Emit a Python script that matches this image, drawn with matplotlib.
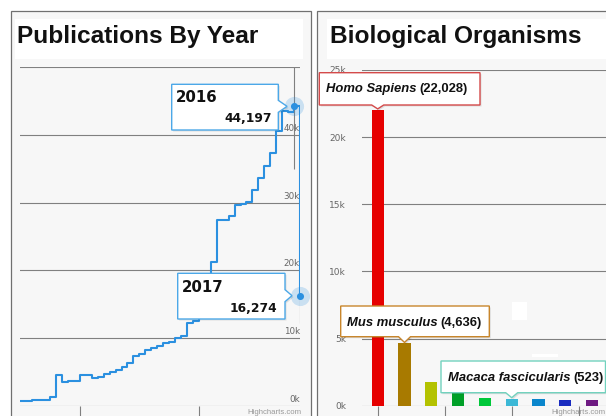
import matplotlib
matplotlib.use("Agg")
import matplotlib.pyplot as plt
from matplotlib.patches import Rectangle, Polygon
from matplotlib.transforms import blended_transform_factory

W, H = 606, 416

# ---- data ----
years = list(range(1970, 2018))
publications = [
    780, 800, 820, 850, 880, 1380, 4580, 3600, 3650, 3750,
    4580, 4580, 4090, 4330, 4720, 4970, 5320, 5810, 6300, 7440,
    7690, 8270, 8620, 8860, 9250, 9500, 10000, 10390, 12250, 12500,
    13200, 14100, 21300, 27400, 27500, 28000, 29700, 29800, 30100, 31900,
    33600, 35450, 37350, 40600, 43500, 43300, 44197, 16274,
]
pub_ticks = [0, 10000, 20000, 30000, 40000]

organism_counts = [22028, 4636, 1780, 1100, 550, 523, 480, 400, 400]
organism_colors = ["#e60000", "#a87a00", "#b4c200", "#00a028", "#00c83a",
                   "#3cb8d6", "#0a86cc", "#1a2cc0", "#6e1a82"]
# (bar index, name, count label)
organism_tips = [(0, "Homo Sapiens", "22,028"),
                 (1, "Mus musculus", "4,636"),
                 (5, "Macaca fascicularis", "523")]
tip_colors = ["#d44a4a", "#c8862c", "#72d2be"]
org_ticks = [0, 5000, 10000, 15000, 20000, 25000]

LINE = "#2b90e0"
GRID = "#808080"
LABEL = "#666666"

fig = plt.figure(figsize=(W / 100, H / 100), dpi=100)
fig.patch.set_facecolor("white")


def px_axes(x0, y0, x1, y1, **kw):
    return fig.add_axes([x0 / W, 1 - y1 / H, (x1 - x0) / W, (y1 - y0) / H], **kw)


def overlay(z):
    a = px_axes(0, 0, W, H, zorder=z)
    a.set_xlim(0, W)
    a.set_ylim(H, 0)
    a.axis("off")
    a.patch.set_alpha(0)
    return a


bg = overlay(-5)
top = overlay(10)

# panels + title boxes
for x0, x1, tx0, tx1 in [(10.7, 311, 15, 303.3), (317.3, 620, 326.7, 620)]:
    bg.add_patch(Rectangle((x0, 10.7), x1 - x0, 420, fc="#f7f7f7", ec="#707070", lw=0.9))
    bg.add_patch(Rectangle((tx0, 19.3), tx1 - tx0, 40, fc="white", ec="none"))

bg.text(17, 42.7, "Publications By Year", fontsize=17.6, fontweight="bold",
        family="Liberation Sans", va="baseline", color="#111111")
bg.text(330, 42.7, "Biological Organisms", fontsize=17.6, fontweight="bold",
        family="Liberation Sans", va="baseline", color="#111111")

# ---- left: publications step line ----
ax1 = px_axes(20.35, 67, 300, 406)
ax1.patch.set_alpha(0)
ax1.set_xlim(years[0], years[-1])
ax1.set_ylim(0, 50000)
for s in ax1.spines.values():
    s.set_visible(False)
ax1.set_yticks([0, 10000, 20000, 30000, 40000, 50000])
ax1.tick_params(axis="y", length=0, labelleft=False)
ax1.yaxis.grid(True, color=GRID, lw=0.8)
ax1.set_axisbelow(True)
ax1.set_xticks([1980, 2000])
ax1.tick_params(axis="x", length=7.2, width=0.8, color=GRID, labelbottom=False)
ax1.plot(years, publications, drawstyle="steps-post", color=LINE, lw=1.5)
tr = blended_transform_factory(ax1.transAxes, ax1.transData)
for v in pub_ticks:
    ax1.text(1.0, v + 300, f"{v // 1000}k", transform=tr, ha="right", va="bottom",
             fontsize=6.3, color=LABEL)
ax1.vlines(years[-2], 35000, 50000, color=GRID, lw=0.8)
ax1.vlines(years[-1], 12300, publications[-1], color=GRID, lw=0.8)
for yr, v in zip(years[-2:], publications[-2:]):
    ax1.scatter([yr], [v], s=190, color=LINE, alpha=0.22, lw=0, clip_on=False, zorder=4)
    ax1.scatter([yr], [v], s=26, color=LINE, lw=0, clip_on=False, zorder=5)

# ---- right: organisms bars ----
ax2 = px_axes(362, 70, 606, 405.7)
ax2.patch.set_alpha(0)
ax2.set_xlim(-0.586, 8.519)
ax2.set_ylim(0, 25000)
for s in ax2.spines.values():
    s.set_visible(False)
ax2.set_yticks(org_ticks)
ax2.set_yticklabels([f"{v // 1000}k" for v in org_ticks])
ax2.tick_params(axis="y", length=0, pad=11.5, labelsize=6.5, labelcolor=LABEL)
ax2.yaxis.grid(True, color=GRID, lw=0.8)
ax2.set_axisbelow(True)
ax2.set_xticks([0, 2.5, 5, 7.5])
ax2.tick_params(axis="x", length=7.2, width=0.8, color=GRID, labelbottom=False)
ax2.bar(range(len(organism_counts)), organism_counts, width=0.46, color=organism_colors)

# stray white marks in the reference
top.add_patch(Rectangle((511.7, 301.7), 15, 18.3, fc="white", ec="none"))
top.add_patch(Rectangle((531.7, 354), 26.3, 2.7, fc="white", ec="none"))


def to_px(ax, x, y):
    dx, dy = ax.transData.transform((x, y))
    return dx, H - dy


def tooltip(x0, y0, x1, y1, tip, side, color):
    tx, ty = tip
    if side == "bottom":
        pts = [(x0, y0), (x1, y0), (x1, y1), (tx + 6, y1), (tx, ty), (tx - 6, y1), (x0, y1)]
    else:
        pts = [(x0, y0), (x1, y0), (x1, ty - 6), (tx, ty), (x1, ty + 6), (x1, y1), (x0, y1)]
    top.add_patch(Polygon([(a + 1.5, b + 1.5) for a, b in pts], closed=True,
                          fc="black", alpha=0.1, ec="none"))
    top.add_patch(Polygon(pts, closed=True, fc="white", ec=color, lw=1.0))


# publications tooltips
px16 = to_px(ax1, years[-2], publications[-2])
px17 = to_px(ax1, years[-1], publications[-1])
tooltip(171.7, 84.3, 278.3, 130, (px16[0] - 7, px16[1]), "right", "#4ca8e8")
tooltip(177.7, 273.3, 285, 319, (px17[0] - 8, px17[1]), "right", "#4ca8e8")
for (bx, by), yr, v in [((176, 101.7), years[-2], publications[-2]),
                        ((181.5, 291.7), years[-1], publications[-1])]:
    top.text(bx, by, str(yr), fontsize=10.8, fontweight="bold", family="DejaVu Sans",
             va="baseline", color="#111111")
    top.text(bx + 96, by + 20.5, f"{v:,}", fontsize=8.8, fontweight="bold",
             family="DejaVu Sans", va="baseline", ha="right", color="#111111")

# organisms tooltips
boxes = [(319.3, 72.7, 480, 105), (340.7, 306, 489.3, 336.7), (441, 361, 605.5, 392.7)]
renderer = fig.canvas.get_renderer()
for (i, name, lab), box, col in zip(organism_tips, boxes, tip_colors):
    bx, by = to_px(ax2, i, organism_counts[i])
    tooltip(*box, (bx, by - 1), "bottom", col)
    t = top.text(box[0] + 6.5, box[1] + 19.6, name, fontsize=9.4, fontweight="bold",
                 style="italic", family="Liberation Sans", va="baseline", color="#111111")
    ext = t.get_window_extent(renderer)
    top.text(ext.x1 + 3.0, box[1] + 19.6, f"({lab})", fontsize=9.4, fontweight="bold",
             family="Liberation Sans", va="baseline", color="#111111")

# credits (cut by the bottom edge in the reference; kept just inside here)
for x in (301, 605):
    bg.text(x, 415.5, "Highcharts.com", fontsize=5.6, color="#999999", ha="right",
            va="bottom", family="Liberation Sans", zorder=3)

fig.savefig("out.png", dpi=100)
